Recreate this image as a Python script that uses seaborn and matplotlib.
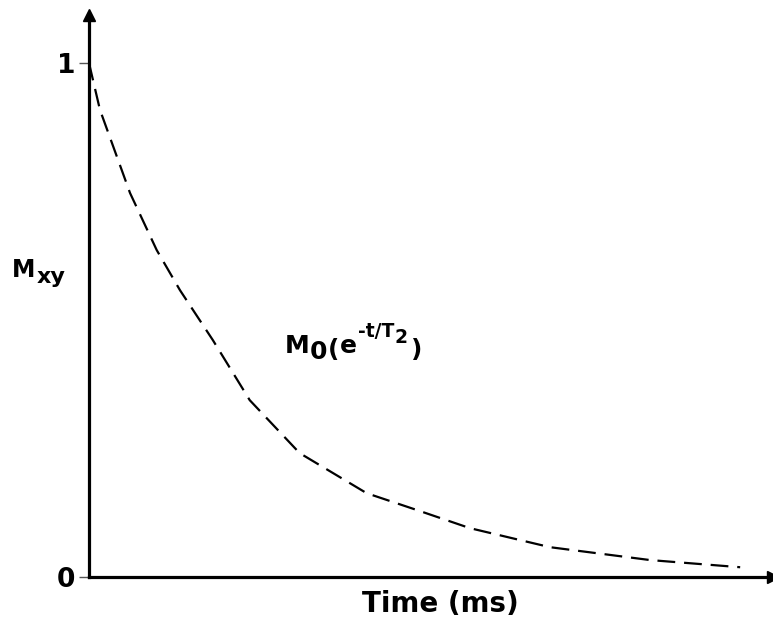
import matplotlib
matplotlib.use("Agg")
import matplotlib.pyplot as plt
import seaborn as sns
import pandas as pd

# Transverse magnetisation decay, M_xy versus time
time_ms = [0, 1.6, 6.0, 9.9, 13.3, 18.1, 23.5, 30.8, 40.6, 48.0, 55.7, 67.4, 82.0, 95.2]
m_xy = [1.0, 0.909, 0.747, 0.636, 0.558, 0.461, 0.344, 0.241, 0.163, 0.130, 0.095, 0.058, 0.033, 0.019]
y_ticks = [0, 1]
y_tick_labels = ["0", "1"]

sns.set_style("white")
plt.rcParams["font.family"] = ["DejaVu Sans"]
plt.rcParams["font.weight"] = "bold"
plt.rcParams["text.color"] = "black"
plt.rcParams["ytick.labelcolor"] = "black"

W, H = 773, 619
fig = plt.figure(figsize=(W / 100, H / 100), dpi=100)

left_px, bottom_px, top_px, right_px = 89, 577, 15, 773
ax = fig.add_axes([left_px / W, (H - bottom_px) / H,
                   (right_px - left_px) / W, (bottom_px - top_px) / H])

df = pd.DataFrame({"t": time_ms, "m": m_xy})
sns.lineplot(data=df, x="t", y="m", ax=ax, sort=False, estimator=None,
             color="black", linewidth=1.6, linestyle=(0, (8, 4)))
for ln in ax.get_lines():
    ln.set_solid_joinstyle("round")
    ln.set_dash_joinstyle("round")

ax.set_xlim(0, 100)
ax.set_ylim(0, (bottom_px - top_px) / 514)
ax.set_xticks([])
ax.set_yticks(y_ticks)
ax.set_yticklabels(y_tick_labels, fontsize=19, fontweight="bold", color="black")
ax.tick_params(axis="y", length=7, width=1.0, color="#555555", pad=3, left=True)
ax.set_xlabel("")
ax.set_ylabel("")

for side in ("top", "right"):
    ax.spines[side].set_visible(False)
for side in ("left", "bottom"):
    ax.spines[side].set_linewidth(2.3)
    ax.spines[side].set_color("black")
    ax.spines[side].set_zorder(5)

# arrowheads at the ends of both axes
ax.plot(0, 1, marker="^", markersize=9, color="black", transform=ax.transAxes,
        clip_on=False, zorder=6)
ax.plot(1, 0, marker=">", markersize=9, color="black", transform=ax.transAxes,
        clip_on=False, zorder=6)


def px_text(x, y, s, size):
    return fig.text(x / W, 1 - y / H, s, fontsize=size, fontweight="bold",
                    ha="left", va="baseline", color="black")


renderer = fig.canvas.get_renderer()


def chain(x0, pieces):
    """Place text pieces one after another; each piece is (text, size, baseline_y, gap)."""
    x = x0
    for s, size, y, gap in pieces:
        t = px_text(x + gap, y, s, size)
        bb = t.get_window_extent(renderer)
        x = bb.x1


# x-axis title
fig.text(440 / W, 1 - 612 / H, "Time (ms)", fontsize=20, fontweight="bold",
         ha="center", va="baseline", color="black")

# y-axis title: M with subscript xy
px_text(12, 277, "M", 17)
px_text(37, 283, "xy", 16)

# curve label: M0(e^(-t/T2))
chain(285, [
    ("M", 18, 353, 0),
    ("0", 18, 359, 0),
    ("(", 18, 357, 1),
    ("e", 18, 353, 0),
    ("-t/T", 13.5, 337, 1),
    ("2", 13.5, 343, 0),
    (")", 18, 357, 4),
])

fig.savefig("out.png", dpi=100)
